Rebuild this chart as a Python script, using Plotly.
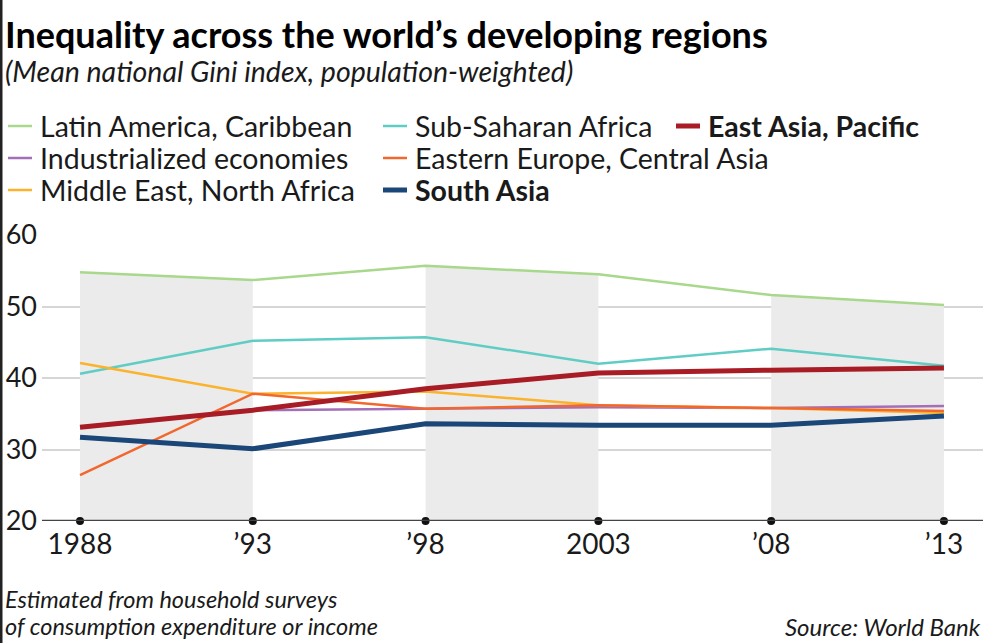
import plotly.graph_objects as go

years = [1988, 1993, 1998, 2003, 2008, 2013]
tick_labels = ["1988", "’93", "’98", "2003", "’08", "’13"]

latin_america = [54.8, 53.7, 55.7, 54.5, 51.6, 50.2]
sub_saharan = [40.6, 45.2, 45.7, 42.0, 44.1, 41.7]
industrialized_years = [1993, 1998, 2003, 2008, 2013]
industrialized = [35.5, 35.7, 35.9, 35.8, 36.1]
eastern_europe = [26.4, 37.8, 35.7, 36.2, 35.8, 35.4]
middle_east = [42.1, 37.8, 38.1, 36.2, 35.8, 35.1]
east_asia = [33.1, 35.5, 38.5, 40.7, 41.1, 41.4]
south_asia = [31.7, 30.1, 33.6, 33.4, 33.4, 34.7]

FONT = "Lato"
TXT = "#1a1a1a"

W, H = 987, 643
L, R, T, B = 42, 4, 235, 122
PW, PH = W - L - R, H - T - B

fig = go.Figure()

# shaded bands under the Latin America line (alternating periods)
for i in (0, 2, 4):
    fig.add_trace(go.Scatter(x=years[i:i + 2], y=latin_america[i:i + 2], mode="lines",
                             fill="tozeroy", fillcolor="#ebebeb", line=dict(width=0),
                             hoverinfo="skip", showlegend=False))

series = [
    ("Latin America, Caribbean", years, latin_america, "#a8d88c", 2.5),
    ("Sub-Saharan Africa", years, sub_saharan, "#5fcdc4", 2.5),
    ("Industrialized economies", industrialized_years, industrialized, "#a36fb7", 2.5),
    ("Middle East, North Africa", years, middle_east, "#fbb22c", 2.5),
    ("Eastern Europe, Central Asia", years, eastern_europe, "#f2672d", 2.5),
    ("South Asia", years, south_asia, "#1b4678", 5),
    ("East Asia, Pacific", years, east_asia, "#a81c25", 5),
]
colors = {}
for name, xs, ys, col, w in series:
    colors[name] = (col, w)
    fig.add_trace(go.Scatter(x=xs, y=ys, mode="lines", name=name,
                             line=dict(color=col, width=w), showlegend=False))

# dots on the x axis
fig.add_trace(go.Scatter(x=years, y=[20] * len(years), mode="markers",
                         marker=dict(color="#111", size=8), cliponaxis=False,
                         hoverinfo="skip", showlegend=False))

fig.update_xaxes(range=[1986.9, 2014.13], tickvals=years, ticktext=tick_labels,
                 showgrid=False, zeroline=False, showline=False,
                 tickfont=dict(family=FONT, size=28, color=TXT), ticks="", ticklabelstandoff=4)
fig.update_yaxes(range=[20, 60], tickvals=[20, 30, 40, 50, 60], showgrid=True,
                 gridcolor="#d6d6d6", gridwidth=1.5, zeroline=False, showline=False,
                 tickfont=dict(family=FONT, size=27, color=TXT), ticks="", ticklabelstandoff=4)

# x axis baseline
fig.add_shape(type="line", xref="paper", yref="y", x0=0, x1=1, y0=20, y1=20,
              line=dict(color="#444", width=2.5), layer="above")

annotations = []
shapes = []


def px(x):
    return (x - L) / PW


def py(y):
    return (H - B - y) / PH


annotations.append(dict(text="<b>Inequality across the world’s developing regions</b>",
                        x=px(3), y=py(34), xref="paper", yref="paper", xanchor="left", yanchor="middle",
                        showarrow=False, font=dict(family=FONT, size=36, color="#000")))
annotations.append(dict(text="<i>(Mean national Gini index, population-weighted)</i>",
                        x=px(3), y=py(71), xref="paper", yref="paper", xanchor="left", yanchor="middle",
                        showarrow=False, font=dict(family=FONT, size=28.5, color=TXT)))

legend_items = [
    ("Latin America, Caribbean", 8, 126, False),
    ("Sub-Saharan Africa", 383, 126, False),
    ("East Asia, Pacific", 676, 126, True),
    ("Industrialized economies", 8, 158, False),
    ("Eastern Europe, Central Asia", 383, 158, False),
    ("Middle East, North Africa", 8, 190, False),
    ("South Asia", 383, 190, True),
]
for name, x0, y0, bold in legend_items:
    col, w = colors[name]
    shapes.append(dict(type="line", xref="paper", yref="paper", x0=px(x0), x1=px(x0 + 24),
                       y0=py(y0), y1=py(y0), line=dict(color=col, width=w)))
    label = f"<b>{name}</b>" if bold else name
    annotations.append(dict(text=label, x=px(x0 + 30), y=py(y0), xref="paper", yref="paper",
                            xanchor="left", yanchor="middle", showarrow=False,
                            font=dict(family=FONT, size=28.5, color=TXT)))

for txt, yy in (("Estimated from household surveys", 599), ("of consumption expenditure or income", 626)):
    annotations.append(dict(text=f"<i>{txt}</i>", x=px(3), y=py(yy), xref="paper", yref="paper",
                            xanchor="left", yanchor="middle", showarrow=False,
                            font=dict(family=FONT, size=23.5, color=TXT)))
annotations.append(dict(text="<i>Source: World Bank</i>",
                        x=px(983), y=py(626), xref="paper", yref="paper", xanchor="right", yanchor="middle",
                        showarrow=False, font=dict(family=FONT, size=24, color=TXT)))

# left border
shapes.append(dict(type="line", xref="paper", yref="paper", x0=px(1), x1=px(1), y0=py(0), y1=py(H),
                   line=dict(color="#222", width=3)))

for s in shapes:
    fig.add_shape(**s)

fig.update_layout(width=W, height=H, margin=dict(l=L, r=R, t=T, b=B),
                  plot_bgcolor="white", paper_bgcolor="white", annotations=annotations,
                  font=dict(family=FONT))

fig.write_html("out.html")
